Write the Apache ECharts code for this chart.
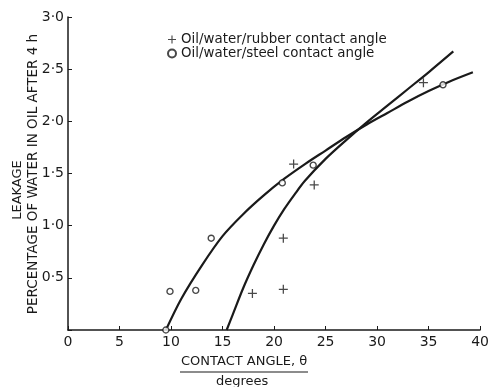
<!DOCTYPE html>
<html>
<head>
<meta charset="utf-8">
<script src="https://cdn.jsdelivr.net/npm/echarts@6/dist/echarts.min.js"></script>
<style>
html,body{margin:0;padding:0;background:#fff;}
#main{width:492px;height:387px;}
</style>
</head>
<body>
<div id="main"></div>
<script>
// 数据点
var rubberPts = [[17.9,0.35],[20.9,0.39],[20.9,0.88],[21.9,1.59],[23.9,1.39],[34.5,2.37]];
var steelPts = [[9.5,0],[9.9,0.37],[12.4,0.38],[13.9,0.88],[20.8,1.41],[23.8,1.58],[36.4,2.35]];
// 拟合曲线
var steelCurve = [[9.5,0],[11,0.30],[13,0.62],[15,0.90],[17,1.11],[19,1.29],[21,1.45],[23,1.59],[25,1.72],[27,1.85],[29,1.97],[31,2.08],[33,2.19],[35,2.29],[37,2.38],[39.3,2.47]];
var rubberCurve = [[15.4,0],[16,0.15],[17,0.40],[18,0.62],[19,0.82],[20,1.00],[21,1.16],[22,1.30],[23,1.43],[25,1.64],[27,1.82],[29,1.99],[31,2.15],[33,2.31],[35,2.47],[37.4,2.67]];
var names = ['Oil/water/rubber contact angle','Oil/water/steel contact angle'];

var plus = 'path://M0,4.3H10V5.7H0Z M4.3,0H5.7V10H4.3Z';
var font = 'DejaVu Sans';
var ink = '#1a1a1a';

var myChart = echarts.init(document.getElementById('main'));
var option = {
    backgroundColor: '#fff',
    animation: false,
    grid: {
        left: 68,
        right: 7,
        top: 17,
        bottom: 57
    },
    legend: {
        orient: 'vertical',
        left: 162,
        top: 28,
        itemGap: 1,
        itemWidth: 8,
        itemHeight: 8,
        data: names,
        textStyle: {fontFamily: font, fontSize: 13.4, color: ink}
    },
    xAxis: {
        type: 'value',
        min: 0,
        max: 40,
        interval: 5,
        axisLine: {lineStyle: {color: ink, width: 1.5}},
        axisTick: {inside: true, length: 4, lineStyle: {color: ink}},
        splitLine: {show: false},
        axisLabel: {fontFamily: font, fontSize: 14, color: ink, margin: 5}
    },
    yAxis: {
        type: 'value',
        min: 0,
        max: 3,
        interval: 0.5,
        axisLine: {show: true, lineStyle: {color: ink, width: 1.5}},
        axisTick: {show: true, inside: true, length: 4, lineStyle: {color: ink}},
        splitLine: {show: false},
        axisLabel: {
            fontFamily: font, fontSize: 14, color: ink, margin: 4,
            formatter: function(v){
                if (v === 0) return '';
                return v.toFixed(1).replace('.', '·');
            }
        }
    },
    graphic: [{
        type: 'text',
        x: 18, y: 190,
        rotation: Math.PI/2,
        style: {text: 'LEAKAGE', fontFamily: font, fontSize: 13, fill: ink, align: 'center', verticalAlign: 'middle'}
    },{
        type: 'text',
        x: 33, y: 174,
        rotation: Math.PI/2,
        style: {text: 'PERCENTAGE OF WATER IN OIL AFTER 4 h', fontFamily: font, fontSize: 13.5, fill: ink, align: 'center', verticalAlign: 'middle'}
    },{
        type: 'text',
        left: 181, top: 355,
        style: {text: 'CONTACT ANGLE, θ', fontFamily: font, fontSize: 13, fill: ink}
    },{
        type: 'line',
        shape: {x1: 180, y1: 372, x2: 308, y2: 372},
        style: {stroke: ink, lineWidth: 1.2}
    },{
        type: 'text',
        left: 216, top: 375,
        style: {text: 'degrees', fontFamily: font, fontSize: 13, fill: ink}
    }],
    series: [{
        name: 'steelCurve',
        type: 'line',
        smooth: 0.3,
        symbol: 'none',
        data: steelCurve,
        lineStyle: {color: ink, width: 2.2}
    },{
        name: 'rubberCurve',
        type: 'line',
        smooth: 0.3,
        symbol: 'none',
        data: rubberCurve,
        lineStyle: {color: ink, width: 2.2}
    },{
        name: names[0],
        type: 'scatter',
        symbol: plus,
        symbolSize: 9,
        data: rubberPts,
        z: 5,
        itemStyle: {color: ink}
    },{
        name: names[1],
        type: 'scatter',
        symbol: 'circle',
        symbolSize: 6,
        data: steelPts,
        z: 5,
        itemStyle: {color: '#fff', borderColor: ink, borderWidth: 1.4}
    }]
};
myChart.setOption(option);
</script>
</body>
</html>
